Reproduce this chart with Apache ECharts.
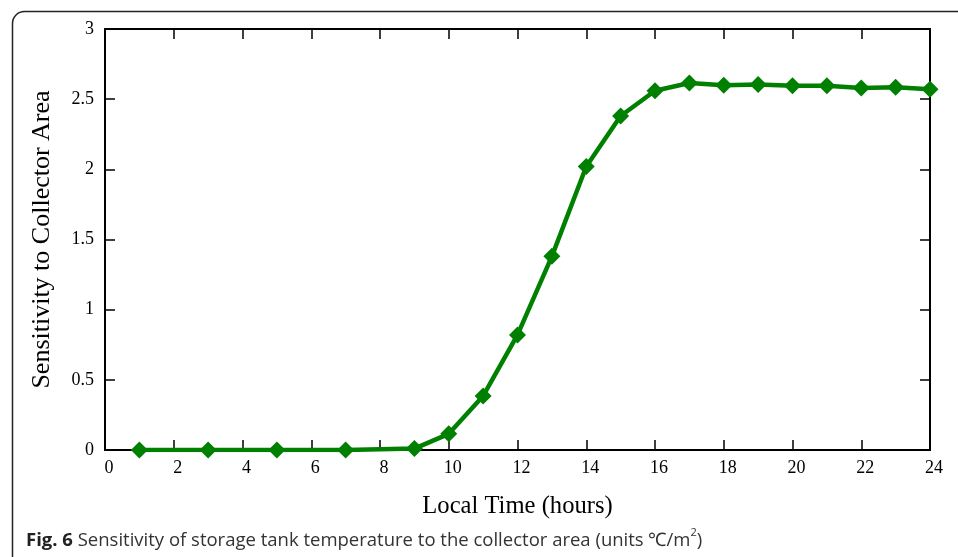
<!DOCTYPE html>
<html>
<head>
<meta charset="utf-8">
<script src="https://cdn.jsdelivr.net/npm/echarts@6/dist/echarts.min.js"></script>
<style>html,body{margin:0;padding:0;background:#fff}#c{width:958px;height:557px}</style>
</head>
<body>
<div id="c"></div>
<script>
const hours = [1, 3, 5, 7, 9, 10, 11, 12, 13, 14, 15, 16, 17, 18, 19, 20, 21, 22, 23, 24];
const sensitivity = [0, 0, 0, 0, 0.01, 0.115, 0.385, 0.82, 1.38, 2.02, 2.38, 2.56, 2.615, 2.60, 2.605, 2.595, 2.595, 2.58, 2.585, 2.57];
const xTitle = 'Local Time (hours)';
const yTitle = 'Sensitivity to Collector Area';

const chart = echarts.init(document.getElementById('c'));
const serif = 'Liberation Serif';
const axisLine = {show: true, onZero: false, lineStyle: {color: '#000', width: 2}};
const tick = {show: true, inside: true, length: 10, lineStyle: {color: '#000', width: 1.5}};
chart.setOption({
  animation: false,
  grid: {left: 105, right: 28, top: 29, bottom: 107, containLabel: false},
  xAxis: [{
    type: 'value', min: 0, max: 24, interval: 2,
    axisLine: axisLine, axisTick: tick, splitLine: {show: false},
    axisLabel: {fontFamily: serif, fontSize: 18, color: '#000', margin: 9, padding: [0, 0, 0, 8]},
    name: xTitle, nameLocation: 'middle', nameGap: 44,
    nameTextStyle: {fontFamily: serif, fontSize: 24.6, color: '#000'}
  }, {
    type: 'value', min: 0, max: 24, interval: 2, position: 'top',
    axisLine: axisLine, axisTick: tick, axisLabel: {show: false}, splitLine: {show: false}
  }],
  yAxis: [{
    type: 'value', min: 0, max: 3, interval: 0.5,
    axisLine: axisLine, axisTick: tick, splitLine: {show: false},
    axisLabel: {fontFamily: serif, fontSize: 18, color: '#000', margin: 11},
    name: yTitle, nameLocation: 'middle', nameGap: 50,
    nameTextStyle: {fontFamily: serif, fontSize: 26, color: '#000'}
  }, {
    type: 'value', min: 0, max: 3, interval: 0.5, position: 'right',
    axisLine: axisLine, axisTick: tick, axisLabel: {show: false}, splitLine: {show: false}
  }],
  series: [{
    type: 'line',
    data: hours.map((h, i) => [h, sensitivity[i]]),
    symbol: 'diamond', symbolSize: 17,
    lineStyle: {color: '#008000', width: 4.5},
    itemStyle: {color: '#008000'},
    clip: true
  }],
  graphic: [{
    type: 'rect', left: 10, top: 9, z: -1,
    shape: {width: 960, height: 560, r: 12},
    style: {fill: 'none', stroke: '#222', lineWidth: 1.5}
  }, {
    type: 'text', left: 26, top: 527,
    style: {
      text: '{b|Fig. 6} Sensitivity of storage tank temperature to the collector area (units ℃/m{s|2})',
      fontFamily: 'Open Sans', fontSize: 18.5, lineHeight: 28, fill: '#333',
      rich: {
        b: {fontFamily: 'Open Sans', fontSize: 18.5, lineHeight: 28, fontWeight: 'bold', fill: '#222'},
        s: {fontFamily: 'Open Sans', fontSize: 11, lineHeight: 14, verticalAlign: 'top', fill: '#333'}
      }
    }
  }]
});
</script>
</body>
</html>
